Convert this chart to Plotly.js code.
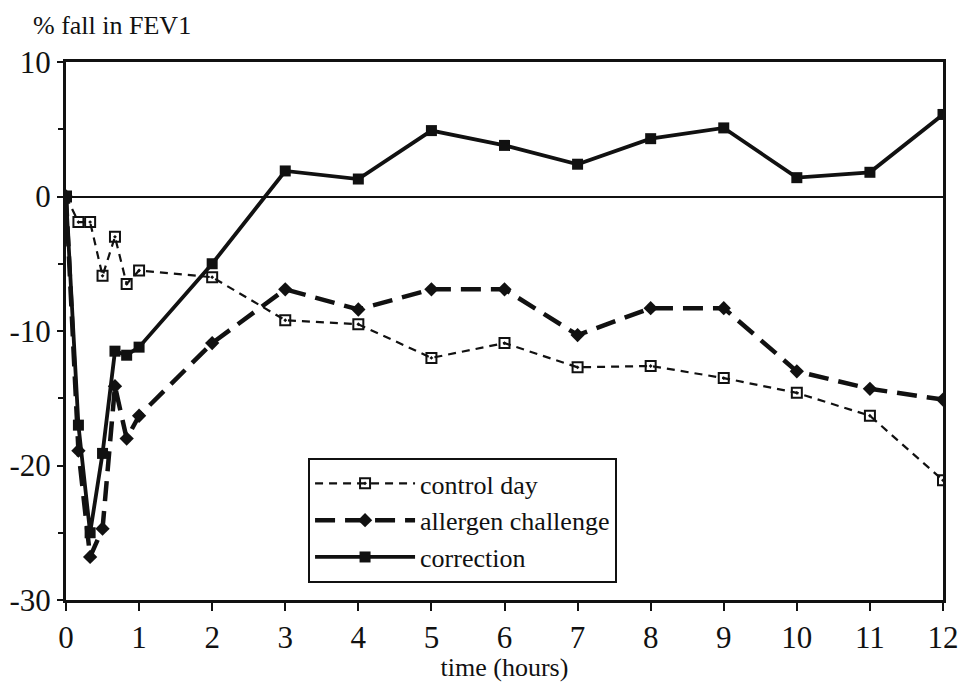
<!DOCTYPE html>
<html>
<head>
<meta charset="utf-8">
<script src="https://cdn.plot.ly/plotly-3.0.1.min.js"></script>
<style>
html,body{margin:0;padding:0;background:#fff;}
#chart{width:960px;height:682px;}
#chart text{font-family:'Times New Roman','Liberation Serif',serif !important;}
</style>
</head>
<body>
<div id="chart"></div>
<script>
const timeHours = [0, 0.17, 0.33, 0.5, 0.67, 0.83, 1, 2, 3, 4, 5, 6, 7, 8, 9, 10, 11, 12];
const controlDay = [0, -1.9, -1.9, -5.9, -3.0, -6.5, -5.5, -6.0, -9.2, -9.5, -12.0, -10.9, -12.7, -12.6, -13.5, -14.6, -16.3, -21.1];
const allergenChallenge = [0, -18.9, -26.8, -24.7, -14.1, -18.0, -16.3, -10.9, -6.9, -8.4, -6.9, -6.9, -10.3, -8.3, -8.3, -13.0, -14.3, -15.1];
const correction = [0, -17.0, -25.0, -19.1, -11.5, -11.8, -11.2, -5.0, 1.9, 1.3, 4.9, 3.8, 2.4, 4.3, 5.1, 1.4, 1.8, 6.1];
const seriesNames = ['control day', 'allergen challenge', 'correction'];
const xTicks = [0,1,2,3,4,5,6,7,8,9,10,11,12];
const yTicks = [-30,-20,-10,0,10];

const serifFamily = 'Times New Roman';
const ink = '#111';
const traces = [
  {x: timeHours, y: controlDay, name: seriesNames[0], mode: 'lines+markers',
   line: {color: ink, width: 2.2, dash: '8px,6px'},
   marker: {symbol: 'square-open-dot', size: 10, color: ink, line: {width: 2, color: ink}}},
  {x: timeHours, y: allergenChallenge, name: seriesNames[1], mode: 'lines+markers',
   line: {color: ink, width: 4.5, dash: '20px,10px'},
   marker: {symbol: 'diamond', size: 11, color: ink}},
  {x: timeHours, y: correction, name: seriesNames[2], mode: 'lines+markers',
   line: {color: ink, width: 3.8},
   marker: {symbol: 'square', size: 11, color: ink}}
];

const layout = {
  width: 960, height: 682,
  margin: {l: 66, r: 17, t: 62, b: 82},
  paper_bgcolor: '#fff', plot_bgcolor: '#fff',
  font: {family: serifFamily, color: ink, size: 24},
  showlegend: true,
  legend: {x: 0.276, y: 0.264, xanchor: 'left', yanchor: 'top',
    bordercolor: ink, borderwidth: 2, bgcolor: '#fff',
    font: {family: serifFamily, size: 26, color: ink}, tracegroupgap: 0, itemwidth: 100},
  xaxis: {range: [0, 12], tickvals: xTicks, ticktext: xTicks.map(String),
    ticks: 'outside', ticklen: 8, tickwidth: 2, tickcolor: ink,
    showline: true, linewidth: 3, linecolor: ink, mirror: true,
    showgrid: false, zeroline: false,
    tickfont: {family: serifFamily, size: 31, color: ink},
    title: {text: 'time (hours)', font: {family: serifFamily, size: 26, color: ink}, standoff: 0}},
  yaxis: {range: [-30, 10], tickvals: yTicks, ticktext: yTicks.map(String),
    ticks: 'outside', ticklen: 6, tickwidth: 2, tickcolor: ink,
    minor: {dtick: 5, ticks: 'outside', ticklen: 5, tickwidth: 2, tickcolor: ink, showgrid: false},
    showline: true, linewidth: 3, linecolor: ink, mirror: true,
    showgrid: false, zeroline: true, zerolinewidth: 2, zerolinecolor: ink,
    tickfont: {family: serifFamily, size: 31, color: ink}},
  annotations: [{text: '% fall in FEV1', xref: 'paper', yref: 'paper', x: -0.04, y: 1.0,
    xanchor: 'left', yanchor: 'bottom', yshift: 20, showarrow: false,
    font: {family: serifFamily, size: 26, color: ink}}]
};
Plotly.newPlot('chart', traces, layout, {displayModeBar: false, staticPlot: true});
</script>
</body>
</html>
